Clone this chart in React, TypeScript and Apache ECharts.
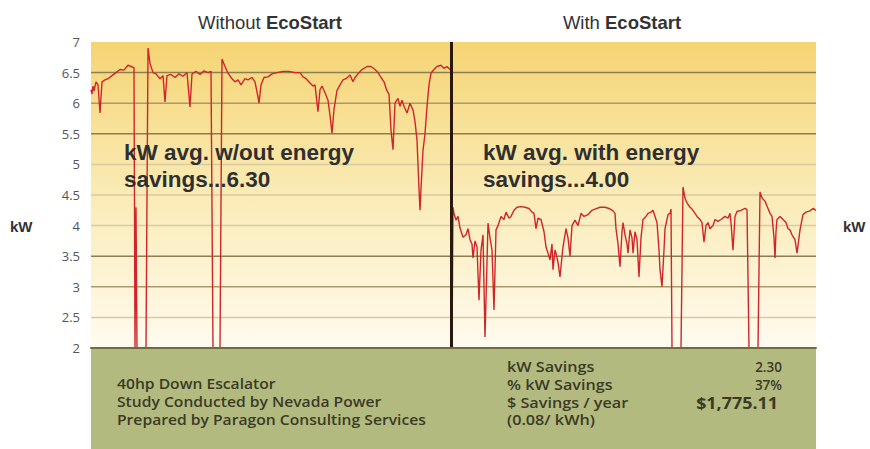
import React, { useEffect, useRef } from "react";
import * as echarts from "echarts";

// ---- data (time index, kW) ----
const withoutT = [0,1,2,3,5,7,9,11,14,17,21,25,29,33,37,40,43,44,45,46,55,57,59,62,65,69,72,74,76,80,84,88,92,96,99,101,105,109,113,117,120,122,129,131,134,137,141,144,147,150,154,157,161,164,167,168,170,173,177,181,186,192,198,204,209,212,215,219,222,224,227,229,231,234,237,239,241,243,246,249,252,255,259,262,264,267,271,276,280,284,287,290,293,296,298,300,302,304,307,309,311,313,316,319,322,324,326,328,329,330,332,334,336,338,340,343,346,350,353,356,359];
const withoutKW = [6.22,6.15,6.28,6.2,6.35,6.3,5.84,6.35,6.38,6.4,6.45,6.5,6.55,6.54,6.62,6.6,6.58,2.0,4.3,2.0,2.0,6.9,6.65,6.5,6.48,6.4,6.45,6.02,6.45,6.47,6.42,6.48,6.44,6.5,5.94,6.48,6.52,6.47,6.53,6.5,6.52,2.0,2.0,6.72,6.6,6.49,6.4,6.35,6.38,6.3,6.4,6.38,6.42,6.35,6.1,6.0,6.3,6.42,6.43,6.48,6.5,6.52,6.52,6.5,6.5,6.43,6.4,6.33,6.28,6.3,5.86,6.22,6.28,6.17,6.05,5.8,5.51,5.9,6.21,6.3,6.38,6.4,6.46,6.35,6.42,6.48,6.55,6.6,6.6,6.55,6.5,6.42,6.35,6.2,6.15,5.56,5.24,6.0,6.08,5.95,6.05,5.95,5.84,6.0,5.89,5.7,5.4,4.6,4.25,4.6,5.23,5.5,5.95,6.3,6.49,6.55,6.6,6.62,6.57,6.6,6.55];

const withT = [361,362,363,365,367,369,372,375,377,379,381,382,384,386,388,390,392,394,396,397,399,401,403,405,407,410,413,415,418,420,423,426,430,434,438,441,443,445,447,450,453,455,457,459,461,462,464,465,467,469,471,472,475,477,479,481,484,487,490,493,497,501,504,509,514,518,522,524,525,527,529,531,532,534,536,537,539,541,542,544,546,548,550,552,555,557,560,562,564,566,568,569,571,573,574,576,577,579,580,581,590,592,594,596,599,601,604,606,609,611,613,615,617,619,622,624,627,630,634,637,639,640,642,644,646,650,654,656,658,667,669,671,674,677,679,681,683,684,685,686,689,692,695,697,699,701,704,706,708,709,712,715,719,722,725];
const withKW = [2.0,4.3,4.2,4.09,4.15,3.96,3.81,3.85,3.95,3.77,3.7,3.47,3.75,3.65,2.78,3.6,3.85,2.18,3.4,4.04,3.8,3.6,2.62,3.93,4.0,4.15,4.1,4.22,4.12,4.15,4.25,4.3,4.31,4.3,4.28,4.22,4.2,3.95,4.12,4.1,3.9,3.65,3.55,3.44,3.7,3.28,3.6,3.55,3.4,3.16,3.5,3.65,3.95,3.8,3.5,4.0,4.09,4.0,4.2,4.15,4.18,4.25,4.27,4.3,4.3,4.28,4.24,4.2,3.95,3.7,3.33,3.9,4.05,3.85,3.7,3.55,3.93,3.8,3.55,3.9,3.77,3.16,3.8,4.1,4.15,4.2,4.22,4.25,4.15,4.05,3.6,3.28,3.0,3.6,3.95,4.1,4.18,4.2,4.27,2.0,2.0,4.63,4.45,4.37,4.3,4.27,4.2,4.15,4.1,4.05,3.73,4.0,4.05,3.95,4.0,4.1,4.07,4.1,4.15,4.12,4.2,4.05,3.6,4.15,4.23,4.25,4.28,4.26,2.0,2.0,4.55,4.45,4.4,4.28,4.2,4.15,3.8,3.47,3.9,4.1,4.15,4.1,4.05,3.95,3.93,3.85,3.77,3.55,3.8,3.93,4.18,4.22,4.24,4.28,4.25];

const T_MAX = 725;
const DIVIDER_T = 360.5;
const Y_MIN = 2;
const Y_MAX = 7;
const Y_STEP = 0.5;

const gridValues = [2.5, 3, 3.5, 4, 4.5, 5, 5.5, 6, 6.5];
const gridTone = ["light", "mid", "dark", "light", "light", "light", "dark", "mid", "dark"];

const titles = ["Without", "With"];
const brand = "EcoStart";
const avgWithout = 6.3;
const avgWith = 4.0;
const infoLines = ["40hp Down Escalator", "Study Conducted by Nevada Power", "Prepared by Paragon Consulting Services"];
const savingsLabels = ["kW Savings", "% kW Savings", "$ Savings / year", "(0.08/ kWh)"];
const savingsValues = ["2.30", "37%", "$1,775.11"];

const zip = (t: number[], v: number[]) => t.map((x, i) => [x, v[i]]);

export default function App() {
  const ref = useRef<HTMLDivElement>(null);
  useEffect(() => {
    if (!ref.current) return;
    const chart = echarts.init(ref.current, undefined, { renderer: "svg" });
    const toneColor: Record<string, string> = { dark: "#8b7f52", mid: "#a89a6c", light: "#d8caa2" };
    const gridSeries = gridValues.map((v, i) => ({
      type: "line",
      data: [[0, v], [T_MAX, v]],
      symbol: "none",
      silent: true,
      z: 1,
      lineStyle: { color: toneColor[gridTone[i]], width: 1.5 },
    }));
    const sans = '"Liberation Sans", Arial, sans-serif';
    const soft = '"Open Sans", "Noto Sans", sans-serif';
    const rowY = [367, 384.5, 402.5, 420];
    const option: any = {
      animation: false,
      grid: {
        left: 91, right: 54, top: 42, bottom: 101,
        show: true, borderWidth: 0,
        backgroundColor: new echarts.graphic.LinearGradient(0, 0, 0, 1, [
          { offset: 0, color: "#f5d473" },
          { offset: 0.5, color: "#faebb6" },
          { offset: 1, color: "#fffbef" },
        ]),
      },
      xAxis: {
        type: "value", min: 0, max: T_MAX, z: 6,
        axisLine: { show: true, lineStyle: { color: "#6f6c40", width: 2 } },
        axisTick: { show: false }, axisLabel: { show: false }, splitLine: { show: false },
      },
      yAxis: {
        type: "value", min: Y_MIN, max: Y_MAX, interval: Y_STEP,
        axisLine: { show: false }, axisTick: { show: false }, splitLine: { show: false },
        axisLabel: { color: "#555", fontSize: 13, fontFamily: soft, margin: 11 },
      },
      series: [
        ...gridSeries,
        {
          type: "line", name: "Without EcoStart", data: zip(withoutT, withoutKW),
          symbol: "none", z: 3, lineStyle: { color: "#d0262b", width: 1.4 },
        },
        {
          type: "line", name: "With EcoStart", data: zip(withT, withKW),
          symbol: "none", z: 3, lineStyle: { color: "#d0262b", width: 1.4 },
        },
        {
          type: "line", data: [[DIVIDER_T, Y_MIN], [DIVIDER_T, Y_MAX]], symbol: "none", silent: true, z: 5,
          lineStyle: { color: "#2a170d", width: 3 },
        },
      ],
      graphic: [
        { type: "rect", shape: { x: 91, y: 349, width: 725, height: 100 }, style: { fill: "#b3ba7f" } },
        {
          type: "text", x: 270, y: 22,
          style: {
            text: `{r|${titles[0]} }{b|${brand}}`, align: "center", verticalAlign: "middle",
            rich: {
              r: { fontSize: 18.5, fontFamily: sans, fill: "#333" },
              b: { fontSize: 18.5, fontFamily: sans, fontWeight: "bold", fill: "#333" },
            },
          },
        },
        {
          type: "text", x: 622, y: 22,
          style: {
            text: `{r|${titles[1]} }{b|${brand}}`, align: "center", verticalAlign: "middle",
            rich: {
              r: { fontSize: 18.5, fontFamily: sans, fill: "#333" },
              b: { fontSize: 18.5, fontFamily: sans, fontWeight: "bold", fill: "#333" },
            },
          },
        },
        { type: "text", x: 10, y: 226, style: { text: "kW", font: `bold 15px ${sans}`, fill: "#333", verticalAlign: "middle" } },
        { type: "text", x: 843, y: 226, style: { text: "kW", font: `bold 15px ${sans}`, fill: "#333", verticalAlign: "middle" } },
        {
          type: "text", x: 124, y: 139, z: 10,
          style: { text: `kW avg. w/out energy\nsavings...${avgWithout.toFixed(2)}`, font: `bold 22.5px ${sans}`, fill: "#2f2f2f", lineHeight: 27 },
        },
        {
          type: "text", x: 483, y: 139, z: 10,
          style: { text: `kW avg. with energy\nsavings...${avgWith.toFixed(2)}`, font: `bold 22.5px ${sans}`, fill: "#2f2f2f", lineHeight: 27 },
        },
        ...infoLines.map((s, i) => ({
          type: "text", x: 117, y: 383 + i * 18, scaleX: 1.16,
          style: { text: s, font: `600 13.5px ${soft}`, fill: "#3a3a26", verticalAlign: "middle" },
        })),
        ...savingsLabels.map((s, i) => ({
          type: "text", x: 507, y: rowY[i], scaleX: 1.2,
          style: { text: s, font: `600 13.5px ${soft}`, fill: "#3a3a26", verticalAlign: "middle" },
        })),
        ...savingsValues.map((s, i) => ({
          type: "text", x: i === 2 ? 778 : 782, y: rowY[i], scaleX: i === 2 ? 1.12 : 1,
          style: {
            text: s, font: i === 2 ? `bold 16px ${soft}` : `600 13.5px ${soft}`,
            fill: "#3a3a26", align: "right", verticalAlign: "middle",
          },
        })),
      ],
    };
    chart.setOption(option);
    return () => chart.dispose();
  }, []);
  return <div ref={ref} style={{ position: "fixed", left: 0, top: 0, width: 870, height: 449, background: "#fff" }} />;
}
